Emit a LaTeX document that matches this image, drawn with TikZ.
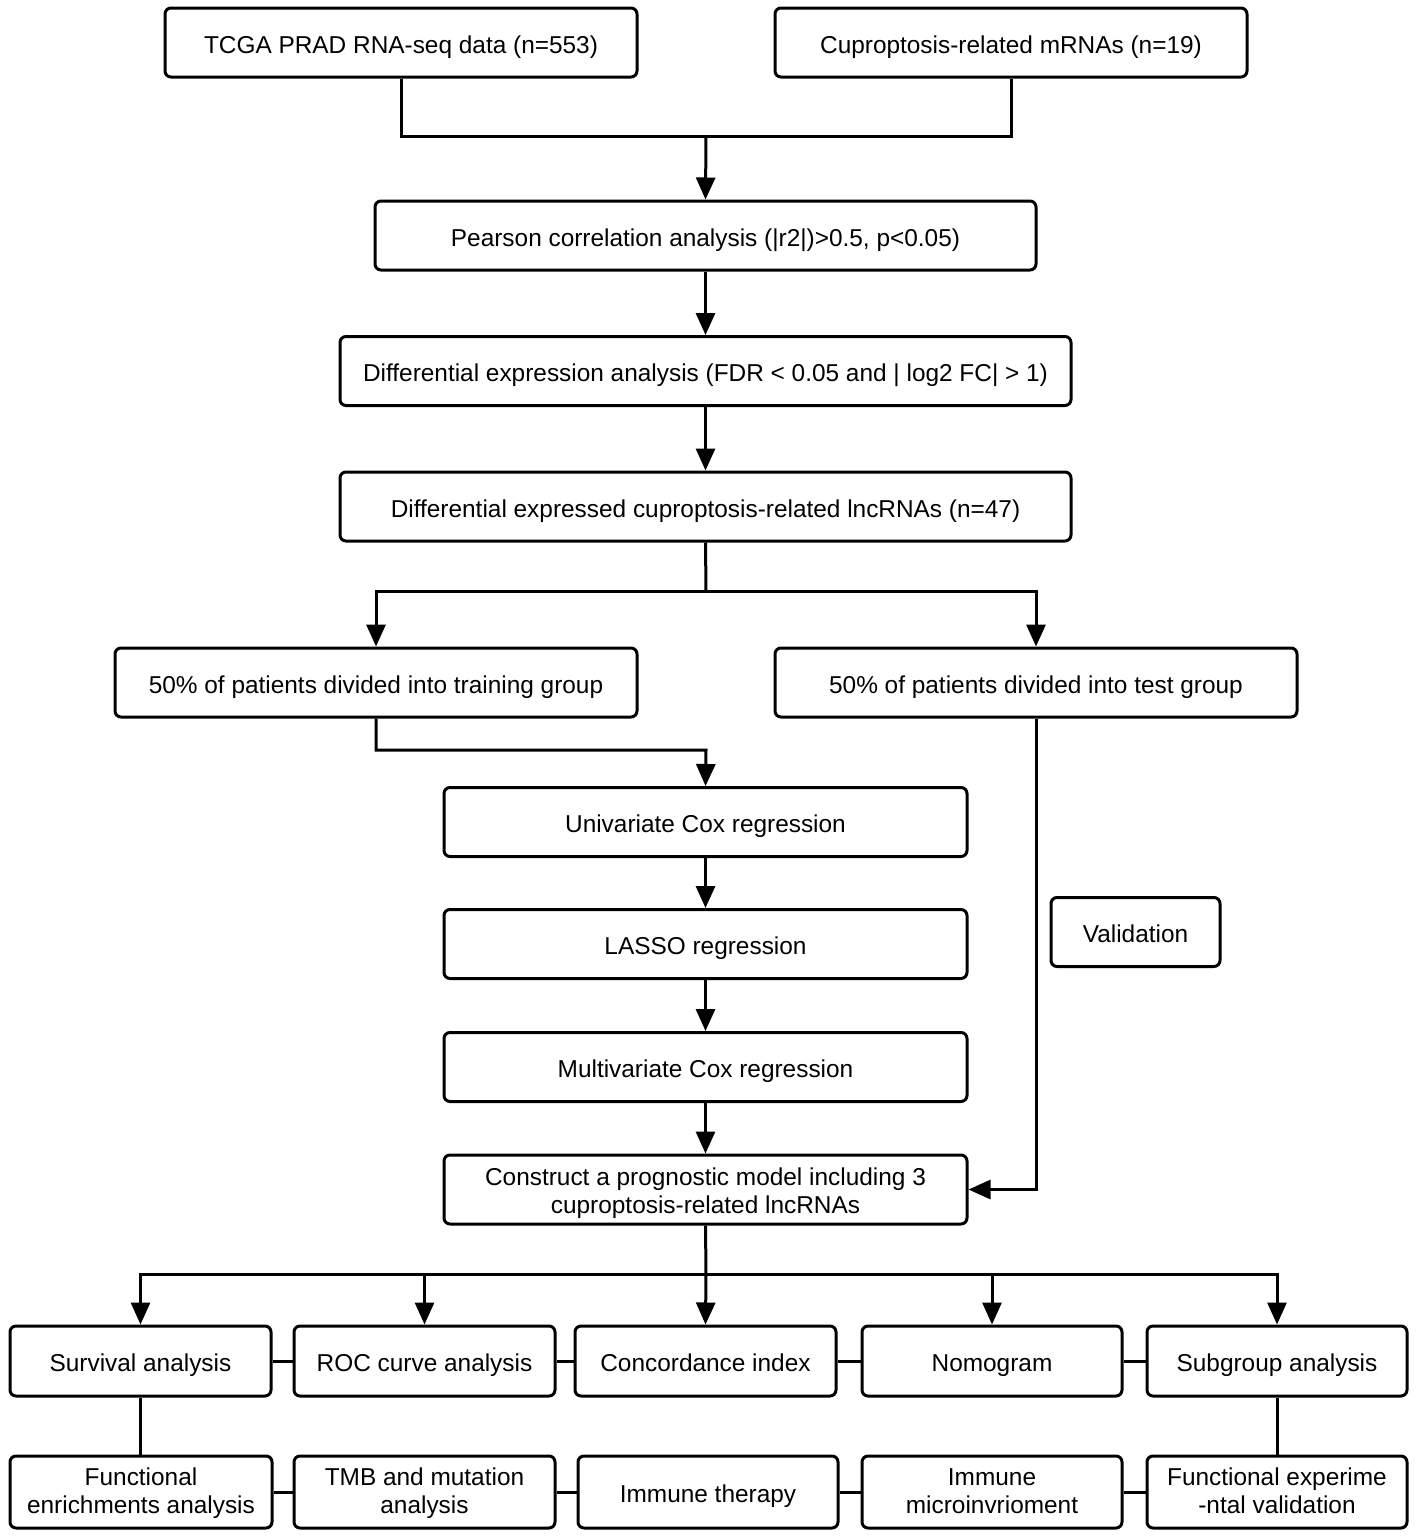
\documentclass[tikz,border=0pt]{standalone}
\usepackage{fontspec}
\setmainfont{Liberation Sans}
\usetikzlibrary{arrows.meta}
\begin{document}
\begin{tikzpicture}[x=1pt,y=-1pt,
  box/.style={draw=black, line width=3pt, rounded corners=6pt, align=center,
    inner sep=0pt, minimum height=69pt, text height=21pt, text depth=0pt,
    font=\fontsize{24.4}{28}\selectfont},
  conn/.style={line width=3pt},
  arr/.style={line width=3pt, -{Triangle[length=22pt,width=19pt]}}]
\useasboundingbox (0,0) rectangle (1416,1537);
% row 1
\node[box, minimum width=472pt] (tcga) at (401,42.5) {TCGA PRAD RNA-seq data (n=553)};
\node[box, minimum width=472pt] (cup) at (1011,42.5) {Cuproptosis-related mRNAs (n=19)};
\node[box, minimum width=661pt] (pear) at (705.5,235.5) {Pearson correlation analysis (|r2|)>0.5, p<0.05)};
\node[box, minimum width=731pt] (dea) at (705.5,371) {Differential expression analysis (FDR < 0.05 and | log2 FC| > 1)};
\node[box, minimum width=731pt] (dec) at (705.5,506.5) {Differential expressed cuproptosis-related lncRNAs (n=47)};
\node[box, minimum width=522pt] (train) at (376,682.5) {50\% of patients divided into training group};
\node[box, minimum width=522pt] (test) at (1036,682.5) {50\% of patients divided into test group};
\node[box, minimum width=523pt] (uni) at (705.5,822) {Univariate Cox regression};
\node[box, minimum width=523pt] (lasso) at (705.5,944) {LASSO regression};
\node[box, minimum width=523pt] (multi) at (705.5,1067) {Multivariate Cox regression};
\node[box, minimum width=523pt, text height=47pt] (cons) at (705.5,1189.5) {Construct a prognostic model including 3\\cuproptosis-related lncRNAs};
\node[box, minimum width=169pt] (valid) at (1135.5,932) {Validation};
% analysis row
\node[box, minimum width=261pt, minimum height=70pt] (surv) at (140.5,1361) {Survival analysis};
\node[box, minimum width=261pt, minimum height=70pt] (roc) at (424.5,1361) {ROC curve analysis};
\node[box, minimum width=261pt, minimum height=70pt] (conc) at (705.5,1361) {Concordance index};
\node[box, minimum width=260pt, minimum height=70pt] (nomo) at (992,1361) {Nomogram};
\node[box, minimum width=260pt, minimum height=70pt] (subg) at (1277,1361) {Subgroup analysis};
% bottom row
\node[box, minimum width=262pt, minimum height=72pt, text height=43pt] (func) at (141,1492) {Functional\\enrichments analysis};
\node[box, minimum width=261pt, minimum height=72pt, text height=43pt] (tmb) at (424.5,1492) {TMB and mutation\\analysis};
\node[box, minimum width=260pt, minimum height=72pt] (immt) at (708,1492) {Immune therapy};
\node[box, minimum width=260pt, minimum height=72pt, text height=43pt] (immm) at (992,1492) {Immune\\microinvrioment};
\node[box, minimum width=260pt, minimum height=72pt, text height=43pt] (fexp) at (1277,1492) {Functional experime\\-ntal validation};
% junctions
\coordinate (j1) at (706,136);
\coordinate (j2) at (706,591);
\coordinate (j3) at (706,750);
\coordinate (j4) at (706,1274);
% connectors
\draw[conn] (tcga.south) |- (cup.south |- j1) -- (cup.south);
\draw[arr] (j1) -- (pear.north);
\draw[arr] (pear.south) -- (dea.north);
\draw[arr] (dea.south) -- (dec.north);
\draw[conn] (dec.south) -- (j2);
\draw[arr] (j2) -| (train.north);
\draw[arr] (j2) -| (test.north);
\draw[arr] (train.south) |- (j3) -- (uni.north);
\draw[arr] (uni.south) -- (lasso.north);
\draw[arr] (lasso.south) -- (multi.north);
\draw[arr] (multi.south) -- (cons.north);
\draw[arr] (test.south) |- (cons.east);
\draw[conn] (cons.south) -- (j4);
\draw[arr] (j4) -| (surv.north);
\draw[arr] (j4) -| (roc.north);
\draw[arr] (j4) -- (conc.north);
\draw[arr] (j4) -| (nomo.north);
\draw[arr] (j4) -| (subg.north);
\draw[conn] (surv.east) -- (roc.west);
\draw[conn] (roc.east) -- (conc.west);
\draw[conn] (conc.east) -- (nomo.west);
\draw[conn] (nomo.east) -- (subg.west);
\draw[conn] (func.east) -- (tmb.west);
\draw[conn] (tmb.east) -- (immt.west);
\draw[conn] (immt.east) -- (immm.west);
\draw[conn] (immm.east) -- (fexp.west);
\draw[conn] (surv.south) -- (func.north -| surv.south);
\draw[conn] (subg.south) -- (fexp.north);
\end{tikzpicture}
\end{document}
